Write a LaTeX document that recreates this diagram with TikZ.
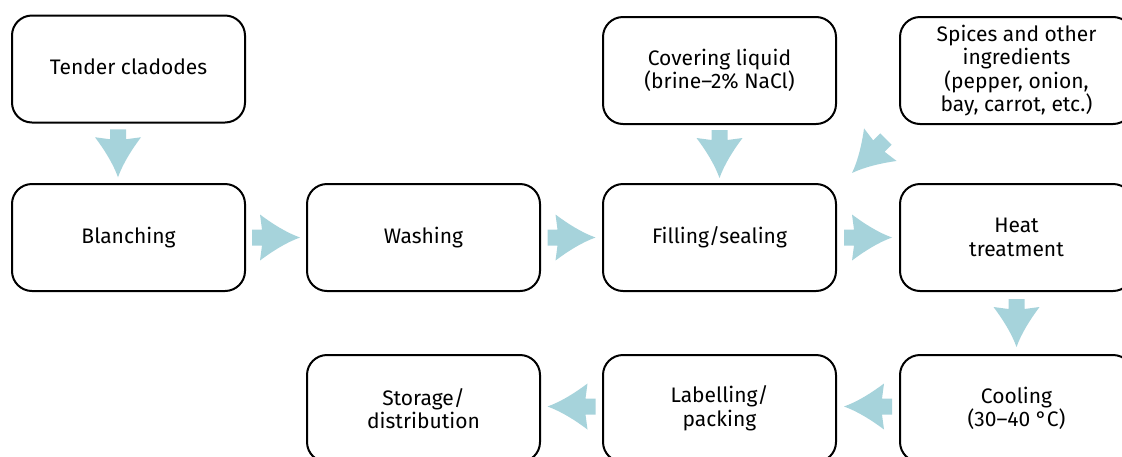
\documentclass[tikz,border=0pt]{standalone}
\usepackage{fontspec}
\setmainfont{Fira Sans}
\usetikzlibrary{calc}
\definecolor{arrowblue}{RGB}{166,211,219}
\tikzset{
  stage/.style={draw, line width=1pt, rounded corners=10pt,
    minimum width=116.5pt, minimum height=53.5pt, align=center,
    font=\fontsize{10.5}{11.8}\selectfont},
  flowarrow/.pic={
    \fill[arrowblue] (-24,8) -- (-14,8) -- (-16,23)
      .. controls (-4,14) and (10,5) .. (24,0)
      .. controls (10,-5) and (-4,-14) .. (-16,-23)
      -- (-14,-8) -- (-24,-8) -- cycle;
  }
}
\begin{document}
\begin{tikzpicture}[x=0.5pt, y=-0.5pt]
            \path[use as bounding box, clip] (0,0) rectangle (1122,456);
            % Stages
            \node[stage] (tender) at (128.5,69) {\raisebox{2.5pt}{Tender cladodes}};
            \node[stage] (liquid) at (719.5,70.5) {Covering liquid\\(brine--2\% NaCl)};
            \node[stage] (spices) at (1016.5,70.5) {Spices and other\\ingredients\\(pepper, onion,\\bay, carrot, etc.)};
            \node[stage] (blanch) at (128.5,237.5) {Blanching};
            \node[stage] (wash) at (423.5,237.5) {Washing};
            \node[stage] (fill) at (719.5,237.5) {Filling/sealing};
            \node[stage] (heat) at (1016.5,237.5) {Heat\\treatment};
            \node[stage] (cool) at (1016.5,408.5) {Cooling\\(30--40 °C)};
            \node[stage] (label) at (719.5,408.5) {Labelling/\\packing};
            \node[stage] (store) at (423.5,408.5) {Storage/\\distribution};
            % Flow arrows
            \pic[rotate=-90] at ($(tender.south)!0.5!(blanch.north)+(-10.5,0)$) {flowarrow};
            \pic at ($(blanch.east)!0.5!(wash.west)$) {flowarrow};
            \pic at ($(wash.east)!0.5!(fill.west)$) {flowarrow};
            \pic at ($(fill.east)!0.5!(heat.west)$) {flowarrow};
            \pic[rotate=-90] at ($(liquid.south)!0.5!(fill.north)$) {flowarrow};
            \pic[rotate=-135] at ($(spices.south west)+(-30,31)$) {flowarrow};
            \pic[rotate=-90] at ($(heat.south)!0.5!(cool.north)$) {flowarrow};
            \pic[rotate=180] at ($(cool.west)!0.5!(label.east)+(0,-2)$) {flowarrow};
            \pic[rotate=180] at ($(label.west)!0.5!(store.east)+(0,-2)$) {flowarrow};
\end{tikzpicture}
\end{document}
